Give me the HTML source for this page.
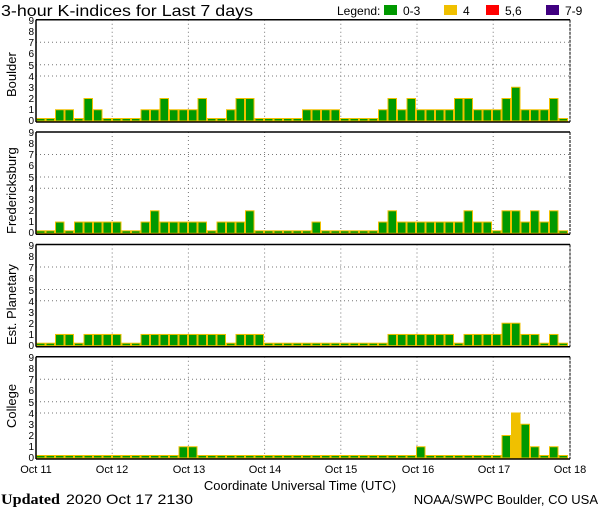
<!DOCTYPE html>
<html><head><meta charset="utf-8"><style>
html,body{margin:0;padding:0;background:#fff;width:600px;height:510px;overflow:hidden}
svg{display:block}
text{font-family:"Liberation Sans",sans-serif;fill:#000}
.t{font-size:10px}
</style></head><body>
<svg id="s" width="600" height="510" viewBox="0 0 600 510" xmlns="http://www.w3.org/2000/svg">
<text x="1" y="16" font-size="16" textLength="252" lengthAdjust="spacingAndGlyphs">3-hour K-indices for Last 7 days</text>
<text x="337" y="15" font-size="12">Legend:</text>
<rect x="384" y="5" width="13" height="10" fill="#009900"/><text x="403" y="15" font-size="12">0-3</text>
<rect x="444" y="5" width="13" height="10" fill="#f0c000"/><text x="463" y="15" font-size="12">4</text>
<rect x="486" y="5" width="13" height="10" fill="#ff0000"/><text x="505" y="15" font-size="12">5,6</text>
<rect x="546" y="5" width="13" height="10" fill="#400080"/><text x="565" y="15" font-size="12">7-9</text>
<g id="plots"></g>
<g class="t" text-anchor="end">
<text x="34" y="124">0</text><text x="34" y="113">1</text><text x="34" y="102">2</text><text x="34" y="91">3</text><text x="34" y="80">4</text><text x="34" y="69">5</text><text x="34" y="57">6</text><text x="34" y="46">7</text><text x="34" y="35">8</text><text x="34" y="24">9</text>
<text x="34" y="236">0</text><text x="34" y="225">1</text><text x="34" y="214">2</text><text x="34" y="203">3</text><text x="34" y="192">4</text><text x="34" y="181">5</text><text x="34" y="169">6</text><text x="34" y="158">7</text><text x="34" y="147">8</text><text x="34" y="136">9</text>
<text x="34" y="349">0</text><text x="34" y="338">1</text><text x="34" y="327">2</text><text x="34" y="316">3</text><text x="34" y="305">4</text><text x="34" y="294">5</text><text x="34" y="282">6</text><text x="34" y="271">7</text><text x="34" y="260">8</text><text x="34" y="249">9</text>
<text x="34" y="461">0</text><text x="34" y="450">1</text><text x="34" y="439">2</text><text x="34" y="428">3</text><text x="34" y="417">4</text><text x="34" y="406">5</text><text x="34" y="394">6</text><text x="34" y="383">7</text><text x="34" y="372">8</text><text x="34" y="361">9</text>
</g>
<text transform="translate(16,97) rotate(-90)" font-size="13">Boulder</text>
<text transform="translate(16,234) rotate(-90)" font-size="13">Fredericksburg</text>
<text transform="translate(16,345) rotate(-90)" font-size="13">Est. Planetary</text>
<text transform="translate(16,428) rotate(-90)" font-size="13">College</text>
<g font-size="11" text-anchor="middle">
<text x="36" y="473">Oct 11</text><text x="112" y="473">Oct 12</text><text x="189" y="473">Oct 13</text><text x="265" y="473">Oct 14</text><text x="341" y="473">Oct 15</text><text x="418" y="473">Oct 16</text><text x="494" y="473">Oct 17</text><text x="570" y="473">Oct 18</text>
</g>
<text x="300" y="490" font-size="13" text-anchor="middle">Coordinate Universal Time (UTC)</text>
<text x="1" y="504" font-size="15" font-weight="bold" style="font-family:'Liberation Serif',serif" textLength="59" lengthAdjust="spacingAndGlyphs">Updated</text>
<text x="66" y="504" font-size="14" textLength="127" lengthAdjust="spacingAndGlyphs">2020 Oct 17 2130</text>
<text x="598" y="504" font-size="13" text-anchor="end">NOAA/SWPC Boulder, CO USA</text>
</svg>
<script>
var D=[
[121,[0,0,1,1,0,2,1,0,0,0,0,1,1,2,1,1,1,2,0,0,1,2,2,0,0,0,0,0,1,1,1,1,0,0,0,0,1,2,1,2,1,1,1,1,2,2,1,1,1,2,3,1,1,1,2,0]],
[233.3,[0,0,1,0,1,1,1,1,1,0,0,1,2,1,1,1,1,1,0,1,1,1,2,0,0,0,0,0,0,1,0,0,0,0,0,0,1,2,1,1,1,1,1,1,1,2,1,1,0,2,2,1,2,1,2,0]],
[345.7,[0,0,1,1,0,1,1,1,1,0,0,1,1,1,1,1,1,1,1,1,0,1,1,1,0,0,0,0,0,0,0,0,0,0,0,0,0,1,1,1,1,1,1,1,0,1,1,1,1,2,2,1,1,0,1,0]],
[458,[0,0,0,0,0,0,0,0,0,0,0,0,0,0,0,1,1,0,0,0,0,0,0,0,0,0,0,0,0,0,0,0,0,0,0,0,0,0,0,0,1,0,0,0,0,0,0,0,0,2,4,3,1,0,1,0]]];
var u=11.25,L=36,R=570,w=9.5,h='';
D.forEach(function(p){var b=p[0],top=b-9*u;
[7,5,4].forEach(function(k){var y=b-k*u;h+='<line x1="'+L+'" x2="'+R+'" y1="'+y+'" y2="'+y+'" stroke="#777" stroke-dasharray="1,3"/>';});
for(var d=1;d<7;d++){var x=L+d*76.2;h+='<line x1="'+x+'" x2="'+x+'" y1="'+top+'" y2="'+b+'" stroke="#777" stroke-dasharray="1,3"/>';}
p[1].forEach(function(v,i){var x=L+i*w,hh=v?v*u:2.5,c=v>=4?(v>=7?'#400080':v>=5?'#ff0000':'#f0c000'):'#009900';
h+='<rect x="'+(x+0.5)+'" y="'+(b-hh)+'" width="'+(w-1)+'" height="'+hh+'" fill="'+c+'" stroke="#f0c000" stroke-width="1"/>';});
h+='<line x1="'+L+'" x2="'+R+'" y1="'+top+'" y2="'+top+'" stroke="#000" stroke-width="1.5"/>';
h+='<line x1="'+L+'" x2="'+R+'" y1="'+(b+1)+'" y2="'+(b+1)+'" stroke="#000" stroke-width="1.5"/>';
h+='<line x1="'+L+'" x2="'+L+'" y1="'+top+'" y2="'+(b+1)+'" stroke="#000" stroke-width="1.5"/>';
h+='<line x1="'+R+'" x2="'+R+'" y1="'+top+'" y2="'+(b+1)+'" stroke="#000" stroke-width="1" stroke-dasharray="3,1"/>';});
document.getElementById('plots').innerHTML=h;
</script>
</body></html>
